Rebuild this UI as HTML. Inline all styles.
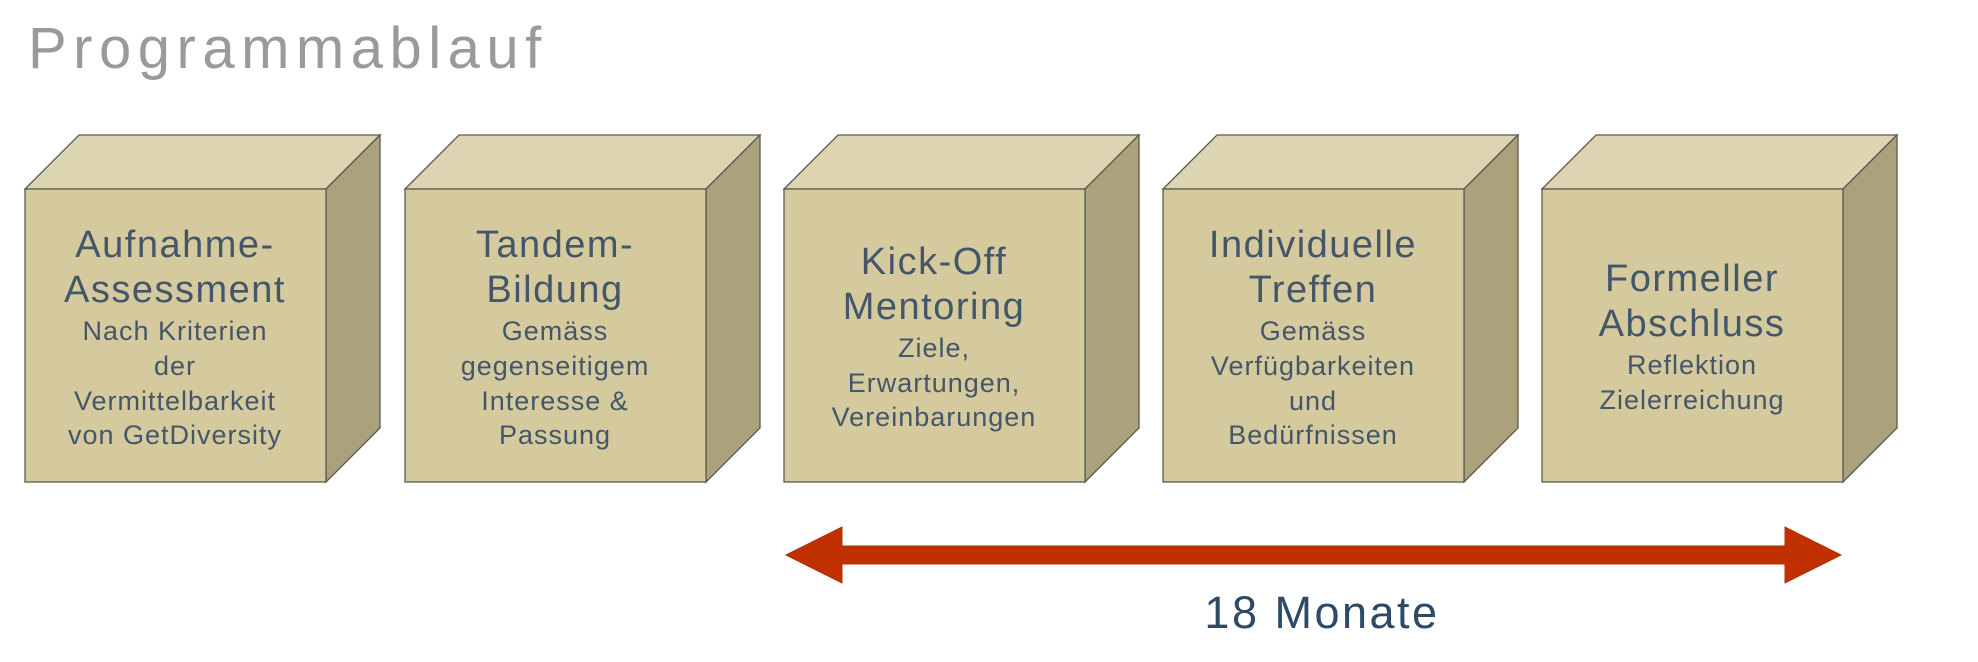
<!DOCTYPE html>
<html><head><meta charset="utf-8">
<style>
html,body{margin:0;padding:0;background:#fff;}
svg{display:block;}
text{font-family:"Liberation Sans",sans-serif;}
.t{font-size:38px;fill:#43566a;letter-spacing:1.5px;}
.s{font-size:27px;fill:#43566a;letter-spacing:1px}
</style></head><body>
<svg width="1978" height="662" viewBox="0 0 1978 662" xmlns="http://www.w3.org/2000/svg">
<text x="28" y="68" font-size="58" fill="#9a9a9a" letter-spacing="6.5">Programmablauf</text>
<defs>
<g id="cube">
<polygon points="0,54 54,0 355,0 301,54" fill="#ddd5b1" stroke="#5a5a50" stroke-width="1.3"/>
<polygon points="301,54 355,0 355,293 301,347" fill="#aba27c" stroke="#5a5a50" stroke-width="1.3"/>
<rect x="0" y="54" width="301" height="293" fill="#d5ca9d" stroke="#5a5a50" stroke-width="1.3"/>
</g>
</defs>
<use href="#cube" x="25" y="135"/>
<use href="#cube" x="405" y="135"/>
<use href="#cube" x="784" y="135"/>
<use href="#cube" x="1163" y="135"/>
<use href="#cube" x="1542" y="135"/>
<g text-anchor="middle">
<text class="t" x="175" y="257">Aufnahme-</text>
<text class="t" x="175" y="302">Assessment</text>
<text class="s" x="175" y="340">Nach Kriterien</text>
<text class="s" x="175" y="375">der</text>
<text class="s" x="175" y="410">Vermittelbarkeit</text>
<text class="s" x="175" y="444">von GetDiversity</text>

<text class="t" x="555" y="257">Tandem-</text>
<text class="t" x="555" y="302">Bildung</text>
<text class="s" x="555" y="340">Gemäss</text>
<text class="s" x="555" y="375">gegenseitigem</text>
<text class="s" x="555" y="410">Interesse &amp;</text>
<text class="s" x="555" y="444">Passung</text>

<text class="t" x="934" y="274">Kick-Off</text>
<text class="t" x="934" y="319">Mentoring</text>
<text class="s" x="934" y="357">Ziele,</text>
<text class="s" x="934" y="392">Erwartungen,</text>
<text class="s" x="934" y="426">Vereinbarungen</text>

<text class="t" x="1313" y="257">Individuelle</text>
<text class="t" x="1313" y="302">Treffen</text>
<text class="s" x="1313" y="340">Gemäss</text>
<text class="s" x="1313" y="375">Verfügbarkeiten</text>
<text class="s" x="1313" y="410">und</text>
<text class="s" x="1313" y="444">Bedürfnissen</text>

<text class="t" x="1692" y="291">Formeller</text>
<text class="t" x="1692" y="336">Abschluss</text>
<text class="s" x="1692" y="374">Reflektion</text>
<text class="s" x="1692" y="409">Zielerreichung</text>
</g>
<polygon points="786,555 842,527 842,546 1785,546 1785,527 1841,555 1785,583 1785,564 842,564 842,583" fill="#c03000" stroke="#b03000" stroke-width="1"/>
<text x="1322" y="628" text-anchor="middle" font-size="45" fill="#2f4a66" letter-spacing="2.5">18 Monate</text>
</svg>
</body></html>
